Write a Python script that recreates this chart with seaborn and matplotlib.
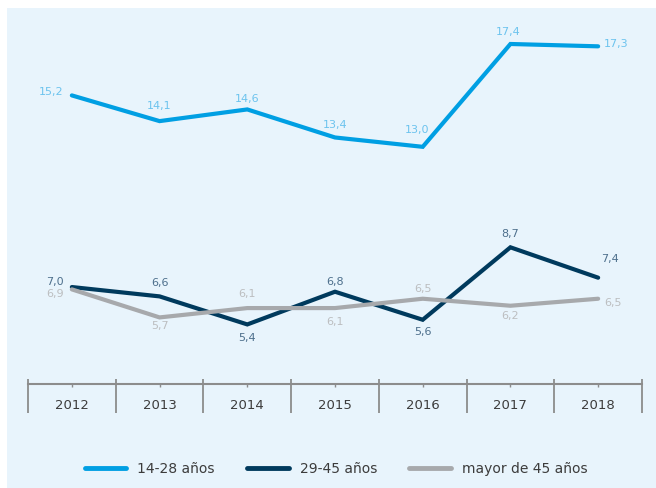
import numpy as np
import pandas as pd
import seaborn as sns
import matplotlib.pyplot as plt
from matplotlib.patches import Rectangle


years = ['2012', '2013', '2014', '2015', '2016', '2017', '2018']
series_names = ['14-28 años', '29-45 años', 'mayor de 45 años']
jovenes = [15.2, 14.1, 14.6, 13.4, 13.0, 17.4, 17.3]
adultos = [7.0, 6.6, 5.4, 6.8, 5.6, 8.7, 7.4]
mayores = [6.9, 5.7, 6.1, 6.1, 6.5, 6.2, 6.5]

line_colors = ['#009fe3', '#003a5d', '#a7a9ac']
label_colors = ['#6cc3ee', '#4d6f8c', '#bcbec0']

# label offsets in pixels (dx, dy) and alignment, one list per series
label_offsets = [
    [(-8, 3, 'right'), (0, 15, 'center'), (0, 10, 'center'), (0, 12, 'center'),
     (-6, 17, 'center'), (-2, 12, 'center'), (6, 2, 'left')],
    [(-8, 5, 'right'), (0, 13, 'center'), (0, -14, 'center'), (0, 10, 'center'),
     (0, -12, 'center'), (0, 13, 'center'), (12, 19, 'center')],
    [(-8, -5, 'right'), (0, -9, 'center'), (0, 14, 'center'), (0, -14, 'center'),
     (0, 10, 'center'), (0, -10, 'center'), (6, -4, 'left')],
]


def build_frame():
    rows = []
    for name, vals in zip(series_names, [jovenes, adultos, mayores]):
        for i, (y, v) in enumerate(zip(years, vals)):
            rows.append({'pos': i, 'year': y, 'serie': name, 'valor': v})
    return pd.DataFrame(rows)


def main():
    sns.set_style('white')
    plt.rcParams['font.family'] = ['DejaVu Sans']

    df = build_frame()

    fig = plt.figure(figsize=(6.56, 4.88), dpi=100)
    fig.patches.append(Rectangle((7 / 656, 0), 1, 1 - 8 / 488, transform=fig.transFigure,
                                 facecolor='#e8f4fc', edgecolor='none', zorder=-10))

    ax = fig.add_axes([28 / 656, 0.2121, 614 / 656, 0.7715])
    ax.set_facecolor('none')

    sns.lineplot(data=df, x='pos', y='valor', hue='serie', hue_order=series_names,
                 palette=line_colors, linewidth=3, ax=ax, legend=False,
                 solid_capstyle='round', solid_joinstyle='miter')

    for s, (name, vals) in enumerate(zip(series_names, [jovenes, adultos, mayores])):
        for i, v in enumerate(vals):
            dx, dy, ha = label_offsets[s][i]
            ax.annotate(f'{v:.1f}'.replace('.', ','), (i, v),
                        xytext=(dx * 0.72, dy * 0.72), textcoords='offset points',
                        ha=ha, va='center', fontsize=8, color=label_colors[s])

    ax.set_xlim(-0.5, len(years) - 0.5)
    ax.set_ylim(2.83, 18.94)
    for side in ['top', 'right', 'left']:
        ax.spines[side].set_visible(False)
    ax.spines['bottom'].set_color('#8c8c8c')
    ax.spines['bottom'].set_linewidth(1.5)

    ax.set_yticks([])
    ax.set_xticks(range(len(years)))
    ax.set_xticklabels(years)
    ax.set_xticks(np.arange(-0.5, len(years)), minor=True)
    ax.tick_params(axis='x', which='major', direction='out', length=2.5, width=1,
                   color='#8c8c8c', pad=8, labelsize=9.5, labelcolor='#3c3c3c', bottom=True)
    ax.tick_params(axis='x', which='minor', direction='out', length=21, width=1.3,
                   color='#8c8c8c', bottom=True)
    ax.set_xlabel('')
    ax.set_ylabel('')

    # short upward stubs on the category boundaries
    sec = ax.secondary_xaxis(0)
    sec.set_xticks(np.arange(-0.5, len(years)))
    sec.tick_params(direction='in', length=3.5, width=1.3, color='#8c8c8c', labelbottom=False)
    sec.spines['bottom'].set_visible(False)

    handles = [plt.Line2D([], [], color=c, linewidth=3.5, solid_capstyle='round') for c in line_colors]
    fig.legend(handles, series_names, loc='center', ncol=3, frameon=False,
               bbox_to_anchor=(336 / 656, 1 - 469 / 488), fontsize=10,
               handlelength=3.0, handletextpad=0.8, columnspacing=2.3,
               labelcolor='#3c3c3c')

    fig.savefig('out.png', dpi=100)


if __name__ == '__main__':
    main()
